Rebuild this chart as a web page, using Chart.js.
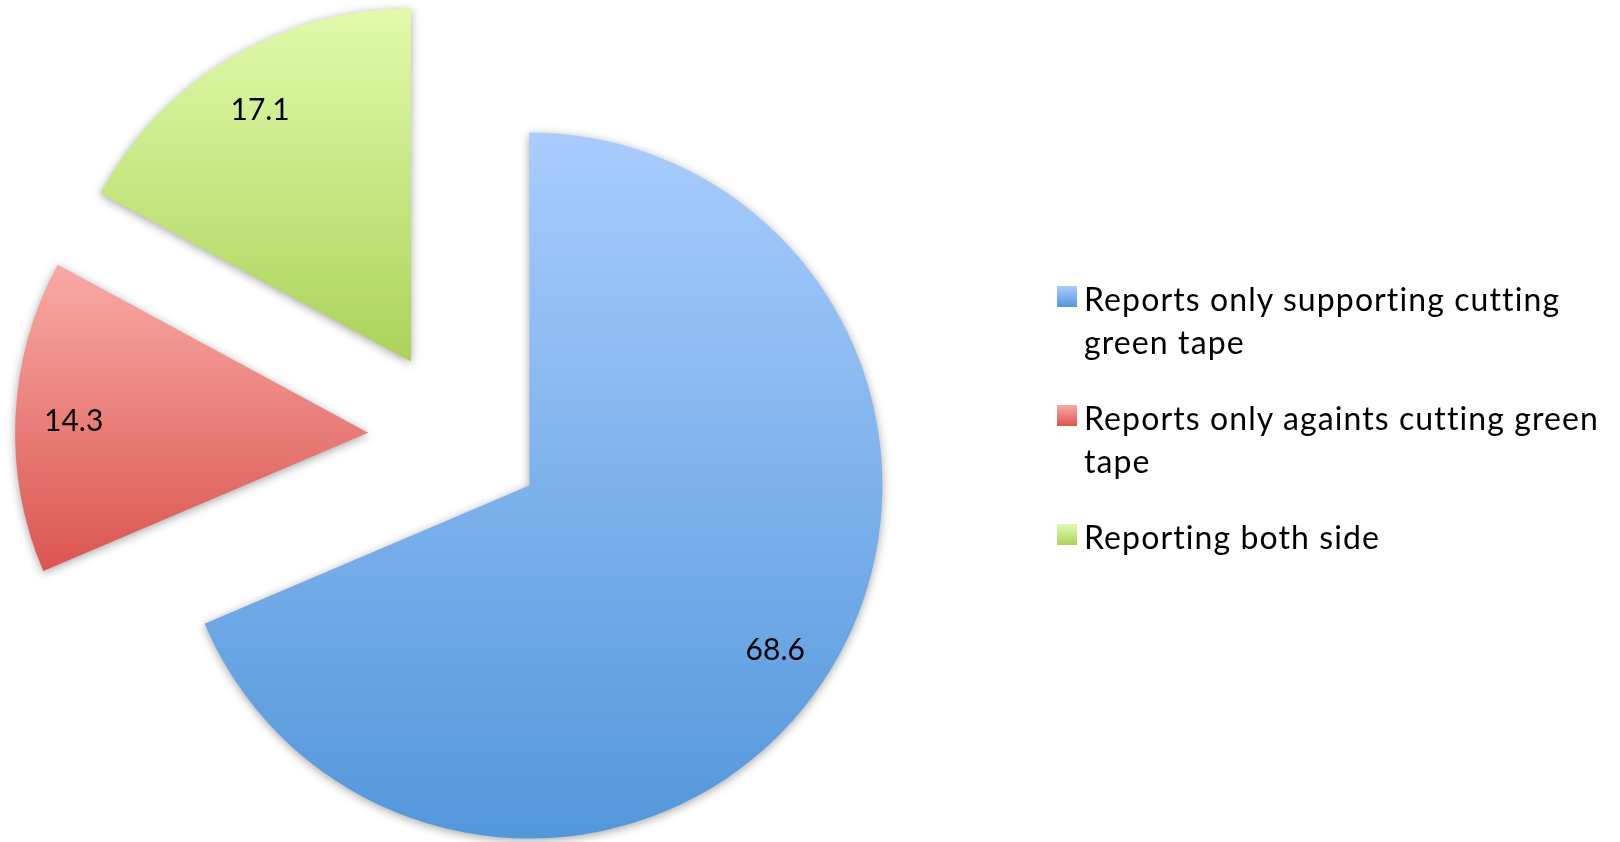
<!DOCTYPE html>
<html>
<head>
<meta charset="utf-8">
<title>Green tape reports</title>
<script src="https://cdn.jsdelivr.net/npm/chart.js@4.4.1/dist/chart.umd.min.js"></script>
<style>
  html, body { margin: 0; padding: 0; background: #fff; }
  #wrap { position: relative; width: 1620px; height: 842px; }
  #chart { position: absolute; left: 0; top: 0; }
  #legend { position: absolute; left: 1057px; top: 277px; font-family: Lato, sans-serif; font-size: 32px; letter-spacing: 1.1px; color: #000; }
  .item { display: flex; align-items: flex-start; margin-bottom: 33px; }
  .box { width: 20px; height: 21px; margin-top: 9px; margin-right: 7px; flex: none; }
  .text { width: 530px; line-height: 43px; }
</style>
</head>
<body>
<div id="wrap">
  <canvas id="chart" width="1620" height="842"></canvas>
  <div id="legend"></div>
</div>
<script>
// Data
var labels = ['Reports only supporting cutting green tape', 'Reports only againts cutting green tape', 'Reporting both side'];
var values = [68.6, 14.3, 17.1];
var topColors = ['#a9ccfd', '#f9aaa6', '#e1fbab'];
var bottomColors = ['#5397db', '#db554f', '#acd25b'];

// Vertical extent of an arc, used for the per-slice gradient
function arcBounds(arc) {
    var r = arc.outerRadius;
    var ys = [arc.y, arc.y + Math.sin(arc.startAngle) * r, arc.y + Math.sin(arc.endAngle) * r];
    [-Math.PI / 2, Math.PI / 2, 3 * Math.PI / 2].forEach(function(a) {
        if (a > arc.startAngle && a < arc.endAngle) ys.push(arc.y + Math.sin(a) * r);
    });
    return { top: Math.min.apply(null, ys), bottom: Math.max.apply(null, ys) };
}

// Pulls every slice out along its middle angle, with gradient and shadow
var explodedSlices = {
    id: 'explodedSlices',
    beforeDatasetDraw: function(chart, args, opts) {
        var ctx = chart.ctx;
        args.meta.data.forEach(function(arc, i) {
            var mid = (arc.startAngle + arc.endAngle) / 2;
            var box = arcBounds(arc);
            var grad = ctx.createLinearGradient(0, box.top, 0, box.bottom);
            grad.addColorStop(0, topColors[i]);
            grad.addColorStop(1, bottomColors[i]);

            var slice = Object.create(arc);
            slice.options = Object.assign({}, arc.options, { backgroundColor: grad });

            ctx.save();
            ctx.translate(Math.cos(mid) * opts.distance, Math.sin(mid) * opts.distance);
            ctx.shadowColor = 'rgba(0, 0, 0, 0.35)';
            ctx.shadowBlur = 10;
            ctx.shadowOffsetY = 2;
            slice.draw(ctx);
            ctx.restore();
        });
        return false;
    },
    afterDatasetsDraw: function(chart, args, opts) {
        var ctx = chart.ctx;
        var meta = chart.getDatasetMeta(0);
        var size = 30;
        ctx.save();
        ctx.font = size + 'px Lato, sans-serif';
        ctx.fillStyle = '#000';
        ctx.textAlign = 'center';
        ctx.textBaseline = 'alphabetic';
        meta.data.forEach(function(arc, i) {
            var mid = (arc.startAngle + arc.endAngle) / 2;
            var dist = opts.distance + arc.outerRadius * 0.835;
            var x = arc.x + Math.cos(mid) * dist;
            var y = arc.y + Math.sin(mid) * dist;
            ctx.fillText(values[i].toFixed(1), x, y + size * 0.4);
        });
        ctx.restore();
    }
};

var ctx = document.getElementById('chart');

var chart = new Chart(ctx, {
    type: 'pie',
    data: {
        labels: labels,
        datasets: [
            {
                data: values,
                backgroundColor: bottomColors,
                borderWidth: 0
            }
        ]
    },
    options: {
        responsive: false,
        animation: false,
        radius: 353,
        layout: {
            padding: { left: 0, right: 708, top: 32, bottom: 0 }
        },
        plugins: {
            legend: { display: false },
            tooltip: { enabled: false },
            explodedSlices: { distance: 88 }
        }
    },
    plugins: [explodedSlices]
});

// Legend
var legend = document.getElementById('legend');
labels.forEach(function(label, i) {
    var item = document.createElement('div');
    item.className = 'item';
    var box = document.createElement('div');
    box.className = 'box';
    box.style.background = 'linear-gradient(' + topColors[i] + ', ' + bottomColors[i] + ')';
    var text = document.createElement('div');
    text.className = 'text';
    text.textContent = label;
    item.appendChild(box);
    item.appendChild(text);
    legend.appendChild(item);
});
</script>
</body>
</html>
